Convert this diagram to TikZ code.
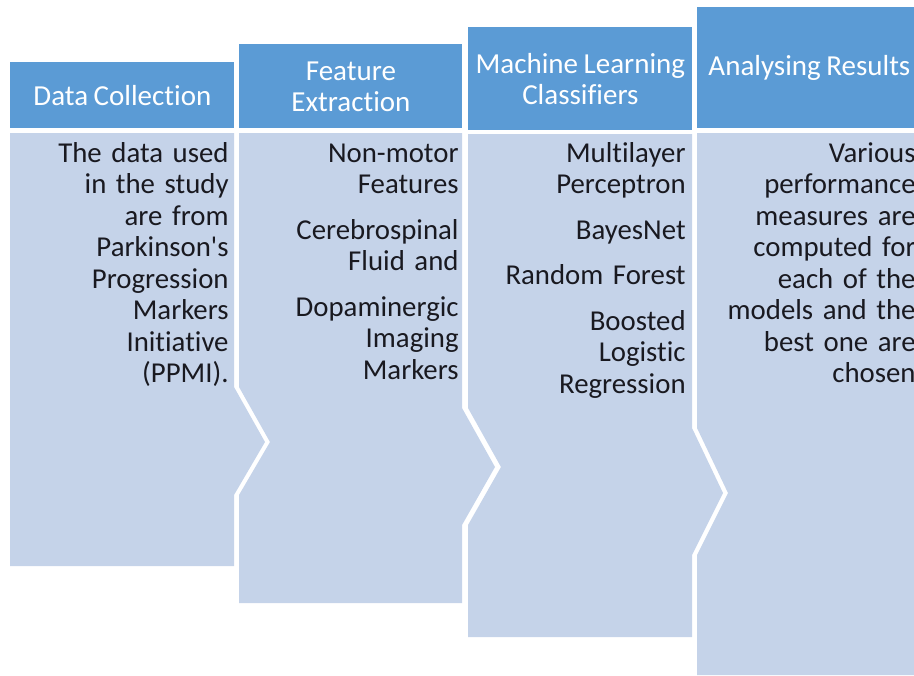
\documentclass[tikz,border=0pt]{standalone}
\usepackage{fontspec}
\setmainfont{Carlito}[Ligatures={NoCommon}, WordSpace=0.85]
\usetikzlibrary{positioning}
\definecolor{headblue}{RGB}{91,155,213}
\definecolor{fieldblue}{RGB}{197,211,233}
\definecolor{ink}{RGB}{25,25,32}
\tikzset{
	%Define style for the column heads
	head/.style={
		rectangle,
		fill=headblue,
		text=white,
		inner sep=0pt,
		minimum width=112pt,
		anchor=north west,
		align=center,
		font=\fontsize{14.5}{15.5}\selectfont},
	% Define style for the column texts
	notes/.style={
		inner sep=0pt,
		text width=108pt,
		align=right,
		anchor=base east,
		text=ink,
		font=\fontsize{14.4}{15.75}\selectfont},
	% Define style for the column fields
	field/.style={fill=fieldblue}
}

\begin{document}
\begin{tikzpicture}[x=0.5pt, y=-0.5pt]
	\useasboundingbox (0,0) rectangle (914,675);
	
	\fill[field] (10,133) -- (234,133) -- (234,387) -- (265,442) -- (234,495) -- (234,566) -- (10,566) -- cycle;
	\fill[field] (239,133) -- (462,133) -- (462,408) -- (495,467) -- (462,525) -- (462,603) -- (239,603) -- (239,495) -- (270,442) -- (239,387) -- cycle;
	\fill[field] (468,134) -- (692,134) -- (692,428) -- (723,493) -- (692,555) -- (692,637) -- (468,637) -- (468,525) -- (501,467) -- (468,408) -- cycle;
	\fill[field] (697,133) -- (921,133) -- (921,675) -- (697,675) -- (697,555) -- (728,493) -- (697,428) -- cycle;
	
	\node[head, minimum height=33pt] (data-head) at (10,62) {Data Collection};
	\node[head, minimum width=111.5pt, minimum height=42pt] (feat-head) at (239,44) {Feature\\Extraction};
	\node[head, minimum height=51.5pt] (ml-head) at (468,27) {Machine Learning\\Classifiers};
	\node[head, minimum height=60.5pt] (res-head) at (697,7) {Analysing Results};
	
	\node[notes] (data-text) at (229,162) {The data used\\in the study\\are from\\Parkinson\textquotesingle s\\Progression\\Markers\\Initiative\\(PPMI).};
	\node[notes] (feat-text) at (459,162) {Non-motor\\Features\\[7pt]Cerebrospinal\\Fluid and\\[7pt]Dopaminergic\\Imaging\\Markers};
	\node[notes] (ml-text) at (686,162) {Multilayer\\Perceptron\\[7pt]BayesNet\\[7pt]Random Forest\\[7pt]Boosted\\Logistic\\Regression};
	\node[notes] (res-text) at (916,162) {Various\\performance\\measures are\\computed for\\each of the\\models and the\\best one are\\chosen};
	
\end{tikzpicture}
\end{document}
